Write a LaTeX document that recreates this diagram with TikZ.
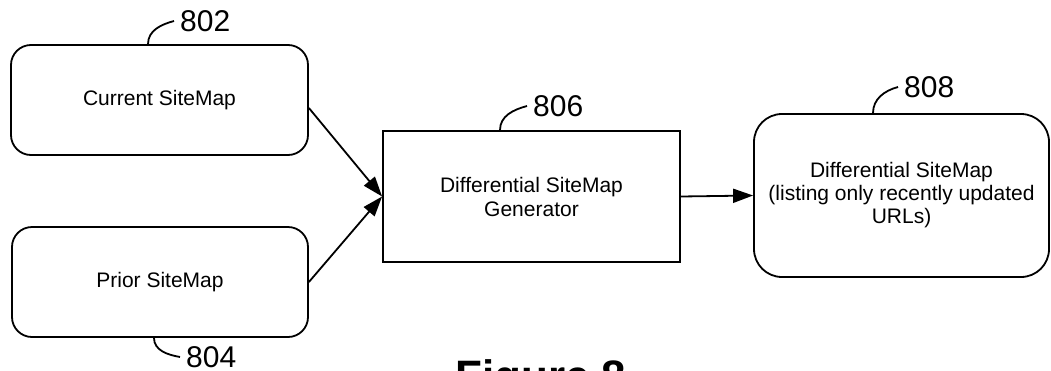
\documentclass[tikz,border=0pt]{standalone}
\usepackage{fontspec}
\setmainfont{Liberation Sans}
\usetikzlibrary{arrows.meta}
\tikzset{
  box/.style={draw, line width=1.8pt, minimum width=#1, inner sep=0pt, align=center, font=\fontsize{21}{24}\selectfont},
  rbox/.style={box=#1, rounded corners=20pt},
  arr/.style={line width=1.8pt, -{Triangle[length=20pt,width=14pt]}},
  leader/.style={line width=1.8pt},
  lbl/.style={anchor=west, inner sep=0pt, font=\fontsize{30}{32}\selectfont},
}
\begin{document}
\begin{tikzpicture}[x=1pt,y=-1pt]
\useasboundingbox (0,0) rectangle (1051,370);
\node[rbox=297pt, minimum height=110pt] (b802) at (159.5,100) {Current SiteMap};
\node[rbox=296pt, minimum height=110pt] (b804) at (160,282) {Prior SiteMap};
\node[box=297pt, minimum height=131pt] (b806) at (531.5,196.5) {Differential SiteMap\\Generator};
\node[rbox=295pt, minimum height=163pt, rounded corners=28pt, font=\fontsize{21}{23}\selectfont] (b808) at (901.5,195.5) {Differential SiteMap\\(listing only recently updated\\URLs)};

\node[lbl] (l802) at (180,21) {802};
\node[lbl] (l804) at (186,357) {804};
\node[lbl] (l806) at (533,106) {806};
\node[lbl] (l808) at (904,87) {808};

\draw[leader] ([xshift=-11.5pt]b802.north) to[out=90,in=195] ([xshift=-6pt]l802.west);
\draw[leader] ([xshift=-6pt]b804.south) to[out=-90,in=170] ([xshift=-6pt]l804.west);
\draw[leader] ([xshift=-31.5pt]b806.north) to[out=90,in=195] ([xshift=-6pt]l806.west);
\draw[leader] ([xshift=-28.5pt]b808.north) to[out=90,in=195] ([xshift=-6pt]l808.west);

\draw[arr] ([yshift=-8pt]b802.east) -- (b806.west);
\draw[arr] (b804.east) -- (b806.west);
\draw[arr] (b806.east) -- (b808.west);

\node[anchor=base west, inner sep=0pt, font=\bfseries\fontsize{44}{50}\selectfont] (fig) at (455,391) {Figure 8};
\end{tikzpicture}
\end{document}
